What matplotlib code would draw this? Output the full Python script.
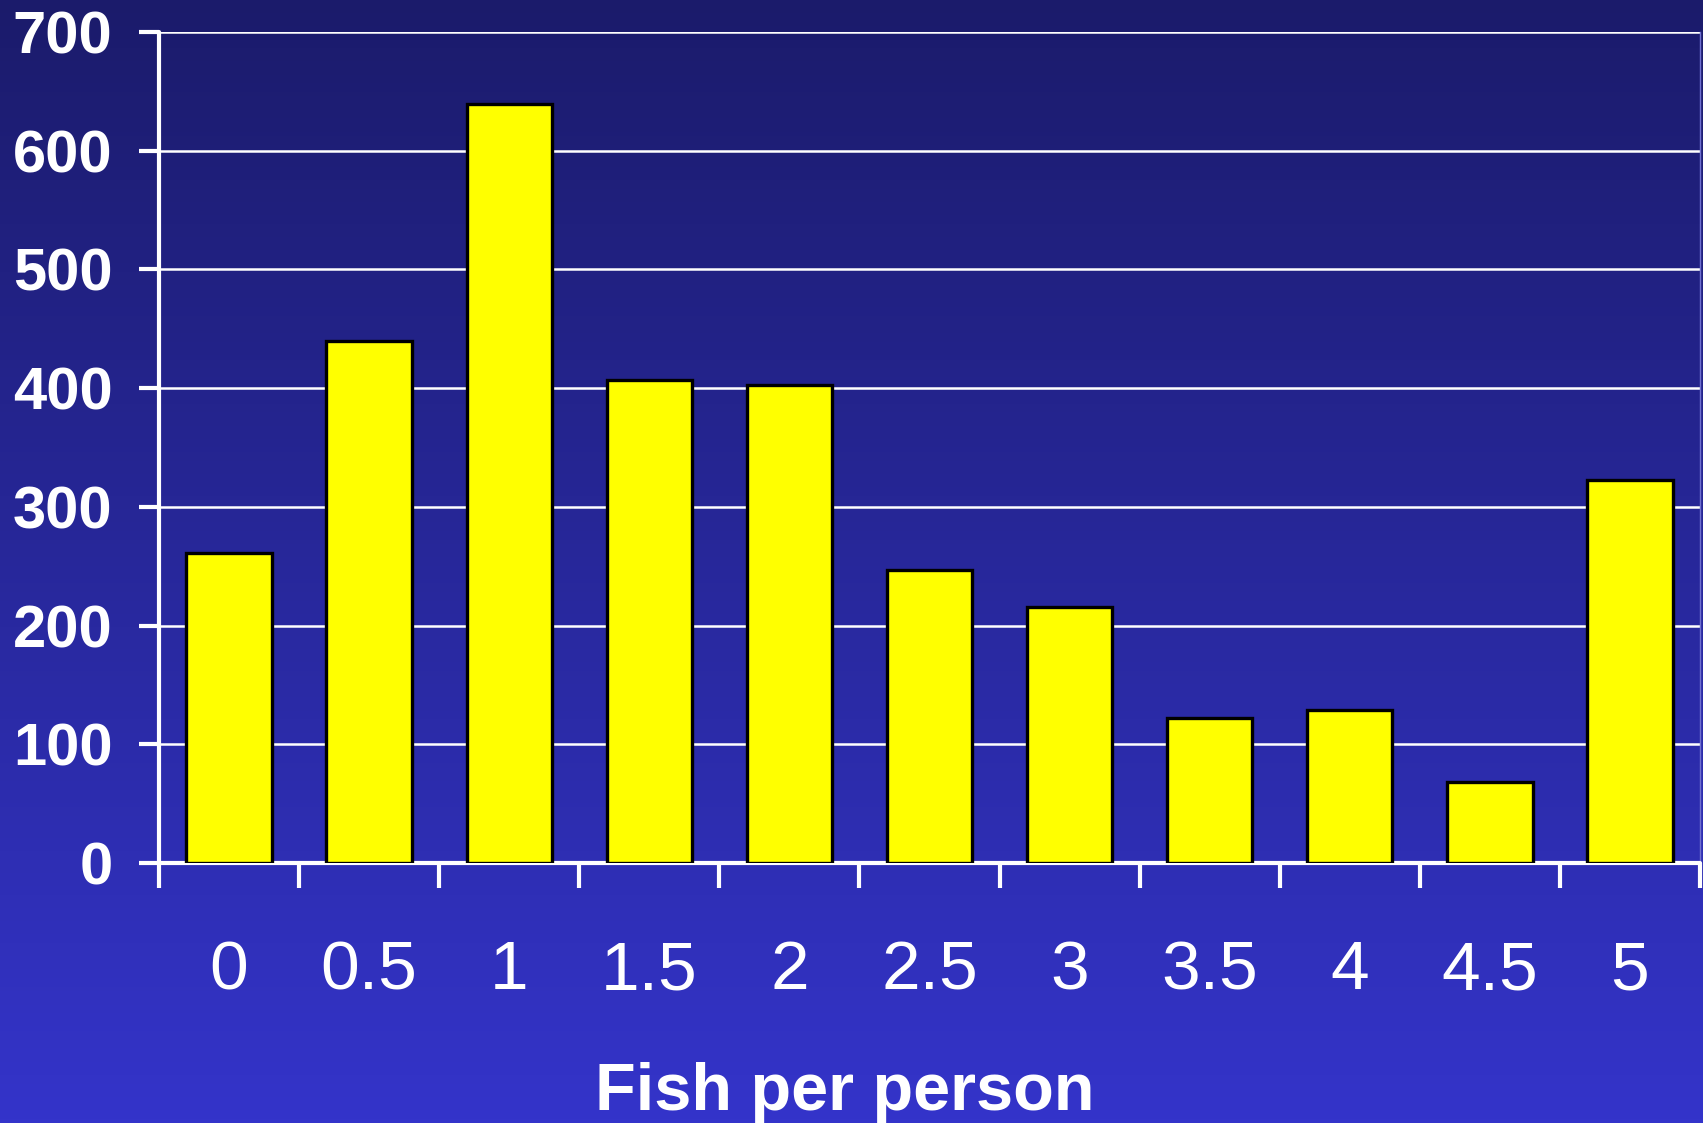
import numpy as np
import matplotlib
matplotlib.use('Agg')
import matplotlib.pyplot as plt
from matplotlib.colors import LinearSegmentedColormap

# Daten
kategorien = ['0', '0.5', '1', '1.5', '2', '2.5', '3', '3.5', '4', '4.5', '5']
werte = [261, 440, 639, 407, 403, 247, 216, 122, 129, 68, 323]
y_ticks = [0, 100, 200, 300, 400, 500, 600, 700]

plt.rcParams['font.family'] = ['Liberation Sans', 'DejaVu Sans']

fig = plt.figure(figsize=(17.03, 11.23), dpi=100)

# Hintergrund mit Farbverlauf
bg = fig.add_axes([0, 0, 1, 1], zorder=0)
verlauf = np.linspace(0, 1, 256).reshape(-1, 1)
cmap = LinearSegmentedColormap.from_list('bg', ['#1b1b6b', '#3434ca'])
bg.imshow(verlauf, aspect='auto', cmap=cmap, extent=[0, 1, 0, 1], origin='upper')
bg.axis('off')

ax = fig.add_axes([0.0934, 0.2315, 0.9048, 0.74], zorder=1)
ax.patch.set_alpha(0)

pos = np.arange(len(werte))
ax.bar(pos, werte, width=0.61, color='#ffff00', edgecolor='black', linewidth=2.4, zorder=3)

ax.set_xlim(-0.5, len(werte) - 0.5)
ax.set_ylim(0, 700)

# Gitterlinien
ax.set_yticks(y_ticks)
ax.set_yticklabels([str(t) for t in y_ticks], fontsize=43, fontweight='bold', color='white')
ax.yaxis.grid(True, color='white', linewidth=1.8, zorder=1)
ax.set_axisbelow(True)

# x-Achse: Striche an den Grenzen, Beschriftung in der Mitte
ax.set_xticks(np.arange(len(werte) + 1) - 0.5)
ax.set_xticklabels([])
ax.set_xticks(pos, minor=True)
ax.set_xticklabels(kategorien, minor=True, fontsize=50, color='white')
ax.tick_params(axis='x', which='major', direction='out', length=18, width=3, color='white')
ax.tick_params(axis='x', which='minor', length=0, pad=55)
ax.tick_params(axis='y', direction='out', length=14.5, width=3, color='white', pad=19)

for s in ['left', 'bottom']:
    ax.spines[s].set_color('white')
    ax.spines[s].set_linewidth(3)
    ax.spines[s].set_capstyle('round')
ax.spines['top'].set_visible(False)
ax.spines['right'].set_color('#7070d0')
ax.spines['right'].set_linewidth(1)

fig.text(0.496, 0.012, 'Fish per person', ha='center', va='baseline',
         fontsize=48, fontweight='bold', color='white')

plt.savefig('out.png', dpi=100)
